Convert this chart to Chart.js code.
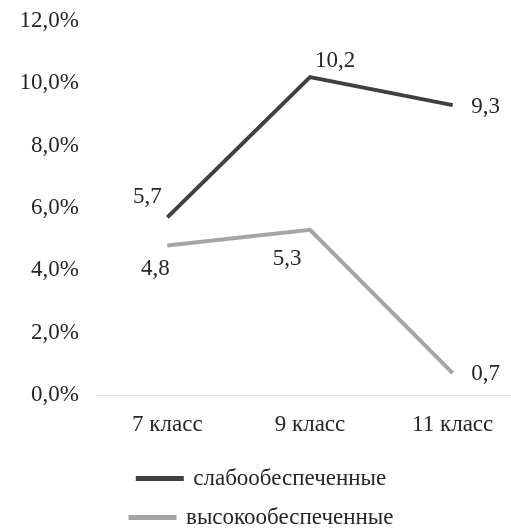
<!DOCTYPE html>
<html>
<head>
<meta charset="utf-8">
<script src="https://cdn.jsdelivr.net/npm/chart.js@4"></script>
<style>
  html, body { margin: 0; padding: 0; background: #fff; overflow: hidden; }
  #wrap { position: relative; width: 524px; height: 539px; }
</style>
</head>
<body>
<div id="wrap"><canvas id="myChart"></canvas></div>
<script>
const grades = ["7 класс", "9 класс", "11 класс"];
const lowIncome = [5.7, 10.2, 9.3];   // слабообеспеченные
const highIncome = [4.8, 5.3, 0.7];   // высокообеспеченные
const seriesNames = ["слабообеспеченные", "высокообеспеченные"];

const FONT = "'Liberation Serif', 'Times New Roman', serif";
const fmt = (v) => v.toFixed(1).replace(".", ",");

// label offsets relative to each point [dx, dy]
const labelOffsets = [
  [[-20, -20], [25, -16], [33, 2]],
  [[-12, 24], [-23, 29], [33, 1]],
];

const valueLabels = {
  id: "valueLabels",
  afterDatasetsDraw(chart) {
    const ctx = chart.ctx;
    ctx.save();
    ctx.font = "23px " + FONT;
    ctx.fillStyle = "#262626";
    ctx.textAlign = "center";
    ctx.textBaseline = "middle";
    chart.data.datasets.forEach((ds, i) => {
      chart.getDatasetMeta(i).data.forEach((pt, j) => {
        const off = labelOffsets[i][j];
        ctx.fillText(fmt(ds.data[j]), pt.x + off[0], pt.y + off[1]);
      });
    });
    ctx.restore();
  },
};

const ctx = document.getElementById("myChart").getContext("2d");
const chart = new Chart(ctx, {
  type: "line",
  data: {
    labels: grades,
    datasets: [
      {
        label: seriesNames[0],
        data: lowIncome,
        borderColor: "#404040",
        backgroundColor: "#404040",
        borderWidth: 4,
        pointRadius: 0,
        tension: 0,
      },
      {
        label: seriesNames[1],
        data: highIncome,
        borderColor: "#a5a5a5",
        backgroundColor: "#a5a5a5",
        borderWidth: 4,
        pointRadius: 0,
        tension: 0,
      },
    ],
  },
  options: {
    responsive: true,
    maintainAspectRatio: false,
    animation: false,
    layout: { padding: { top: 21, left: 0, right: 0, bottom: 0 } },
    plugins: {
      tooltip: { enabled: false },
      legend: {
        position: "bottom",
        maxWidth: 300,
        labels: {
          boxWidth: 44,
          boxHeight: 1,
          padding: 16,
          color: "#262626",
          font: { family: FONT, size: 23 },
        },
      },
    },
    scales: {
      x: {
        offset: true,
        grid: { display: false, drawTicks: false },
        border: { display: true, color: "#d9d9d9", width: 1 },
        ticks: { color: "#262626", padding: 16, font: { family: FONT, size: 23 } },
        afterFit(scale) { scale.height = 56; },
      },
      y: {
        min: 0,
        max: 12,
        grid: { display: false, drawTicks: false },
        border: { display: false },
        ticks: {
          stepSize: 2,
          padding: 17,
          color: "#262626",
          font: { family: FONT, size: 23 },
          callback: (v) => fmt(v) + "%",
        },
        afterFit(scale) {
          scale.width = 96;
          scale.paddingTop = 0;
          scale.paddingBottom = 0;
        },
      },
    },
  },
  plugins: [valueLabels],
});
</script>
</body>
</html>
